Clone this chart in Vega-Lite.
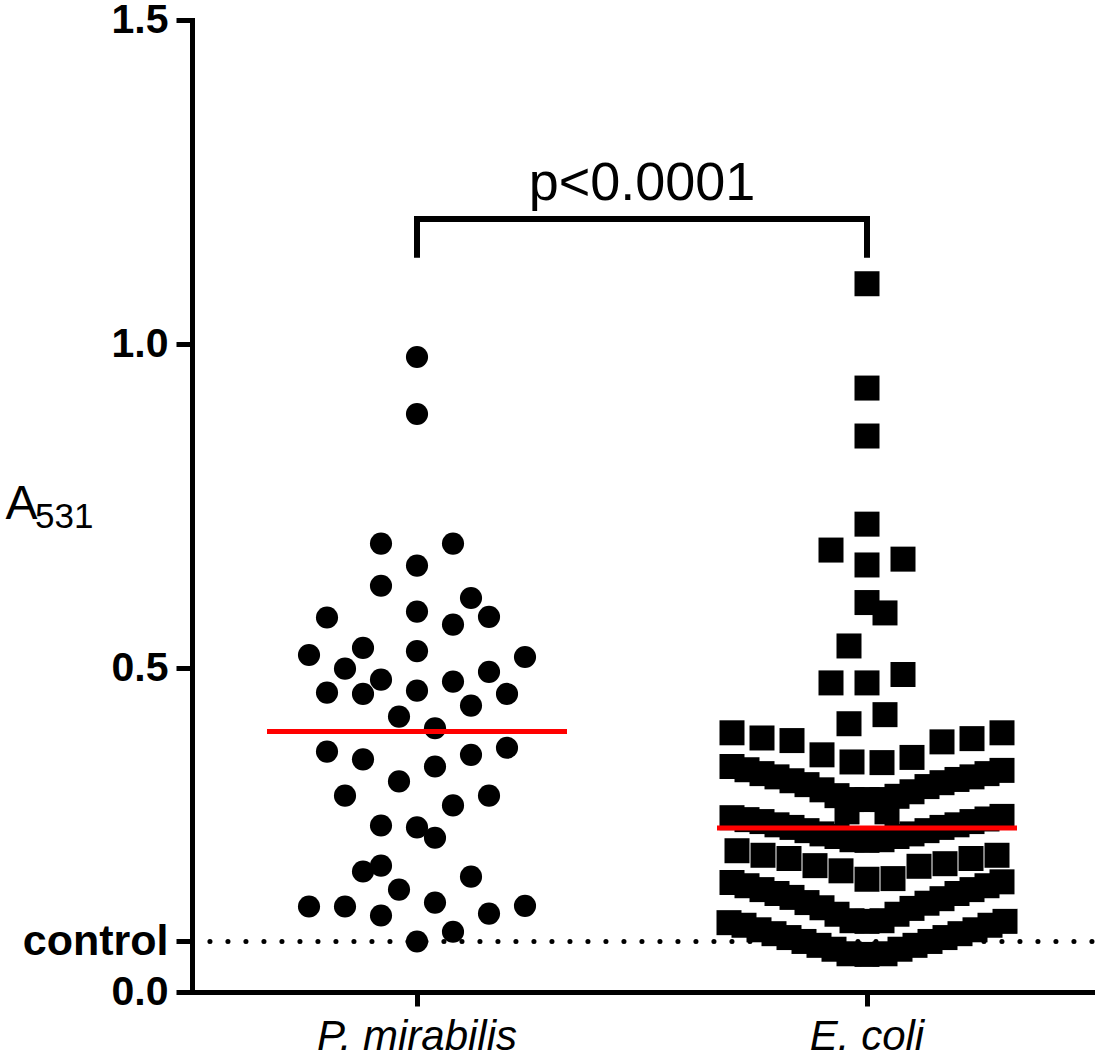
{
  "$schema": "https://vega.github.io/schema/vega-lite/v6.json",
  "width": 900,
  "height": 972,
  "autosize": {"type": "none"},
  "padding": {"left": 192, "top": 20, "right": 6, "bottom": 67},
  "background": "white",
  "datasets": {
    "mirabilis": [
      {"group": "P. mirabilis", "offset": 0, "value": 0.980},
      {"group": "P. mirabilis", "offset": 0, "value": 0.892},
      {"group": "P. mirabilis", "offset": -36, "value": 0.692},
      {"group": "P. mirabilis", "offset": 36, "value": 0.692},
      {"group": "P. mirabilis", "offset": 0, "value": 0.658},
      {"group": "P. mirabilis", "offset": -36, "value": 0.627},
      {"group": "P. mirabilis", "offset": 54, "value": 0.608},
      {"group": "P. mirabilis", "offset": -90, "value": 0.578},
      {"group": "P. mirabilis", "offset": 0, "value": 0.587},
      {"group": "P. mirabilis", "offset": 72, "value": 0.579},
      {"group": "P. mirabilis", "offset": 36, "value": 0.567},
      {"group": "P. mirabilis", "offset": -108, "value": 0.520},
      {"group": "P. mirabilis", "offset": -54, "value": 0.531},
      {"group": "P. mirabilis", "offset": 0, "value": 0.526},
      {"group": "P. mirabilis", "offset": 108, "value": 0.517},
      {"group": "P. mirabilis", "offset": -72, "value": 0.499},
      {"group": "P. mirabilis", "offset": 72, "value": 0.494},
      {"group": "P. mirabilis", "offset": -36, "value": 0.482},
      {"group": "P. mirabilis", "offset": 36, "value": 0.479},
      {"group": "P. mirabilis", "offset": -90, "value": 0.462},
      {"group": "P. mirabilis", "offset": -54, "value": 0.460},
      {"group": "P. mirabilis", "offset": 0, "value": 0.465},
      {"group": "P. mirabilis", "offset": 90, "value": 0.460},
      {"group": "P. mirabilis", "offset": 54, "value": 0.442},
      {"group": "P. mirabilis", "offset": -18, "value": 0.425},
      {"group": "P. mirabilis", "offset": 18, "value": 0.407},
      {"group": "P. mirabilis", "offset": -90, "value": 0.371},
      {"group": "P. mirabilis", "offset": -54, "value": 0.359},
      {"group": "P. mirabilis", "offset": 54, "value": 0.366},
      {"group": "P. mirabilis", "offset": 90, "value": 0.377},
      {"group": "P. mirabilis", "offset": 18, "value": 0.348},
      {"group": "P. mirabilis", "offset": -18, "value": 0.325},
      {"group": "P. mirabilis", "offset": -72, "value": 0.303},
      {"group": "P. mirabilis", "offset": 72, "value": 0.303},
      {"group": "P. mirabilis", "offset": 36, "value": 0.288},
      {"group": "P. mirabilis", "offset": -36, "value": 0.257},
      {"group": "P. mirabilis", "offset": 0, "value": 0.254},
      {"group": "P. mirabilis", "offset": 18, "value": 0.238},
      {"group": "P. mirabilis", "offset": -54, "value": 0.186},
      {"group": "P. mirabilis", "offset": -36, "value": 0.195},
      {"group": "P. mirabilis", "offset": 54, "value": 0.178},
      {"group": "P. mirabilis", "offset": -18, "value": 0.158},
      {"group": "P. mirabilis", "offset": -108, "value": 0.132},
      {"group": "P. mirabilis", "offset": -72, "value": 0.132},
      {"group": "P. mirabilis", "offset": 18, "value": 0.138},
      {"group": "P. mirabilis", "offset": 108, "value": 0.133},
      {"group": "P. mirabilis", "offset": -36, "value": 0.118},
      {"group": "P. mirabilis", "offset": 72, "value": 0.121},
      {"group": "P. mirabilis", "offset": 36, "value": 0.093},
      {"group": "P. mirabilis", "offset": 0, "value": 0.078}
    ],
    "ecoli": [
      {"group": "E. coli", "offset": 0, "value": 1.093},
      {"group": "E. coli", "offset": 0, "value": 0.932},
      {"group": "E. coli", "offset": 0, "value": 0.858},
      {"group": "E. coli", "offset": 0, "value": 0.722},
      {"group": "E. coli", "offset": -36, "value": 0.682},
      {"group": "E. coli", "offset": 0, "value": 0.659},
      {"group": "E. coli", "offset": 36, "value": 0.668},
      {"group": "E. coli", "offset": 0, "value": 0.601},
      {"group": "E. coli", "offset": 18, "value": 0.585},
      {"group": "E. coli", "offset": -18, "value": 0.534},
      {"group": "E. coli", "offset": -36, "value": 0.477},
      {"group": "E. coli", "offset": 0, "value": 0.477},
      {"group": "E. coli", "offset": 36, "value": 0.490},
      {"group": "E. coli", "offset": -18, "value": 0.414},
      {"group": "E. coli", "offset": 18, "value": 0.428},
      {"group": "E. coli", "offset": -135, "value": 0.400},
      {"group": "E. coli", "offset": -105, "value": 0.392},
      {"group": "E. coli", "offset": -75, "value": 0.388},
      {"group": "E. coli", "offset": -45, "value": 0.366},
      {"group": "E. coli", "offset": -15, "value": 0.355},
      {"group": "E. coli", "offset": 15, "value": 0.354},
      {"group": "E. coli", "offset": 45, "value": 0.362},
      {"group": "E. coli", "offset": 75, "value": 0.386},
      {"group": "E. coli", "offset": 105, "value": 0.391},
      {"group": "E. coli", "offset": 135, "value": 0.400},
      {"group": "E. coli", "offset": -135, "value": 0.348},
      {"group": "E. coli", "offset": -120, "value": 0.343},
      {"group": "E. coli", "offset": -105, "value": 0.337},
      {"group": "E. coli", "offset": -90, "value": 0.332},
      {"group": "E. coli", "offset": -75, "value": 0.326},
      {"group": "E. coli", "offset": -60, "value": 0.320},
      {"group": "E. coli", "offset": -45, "value": 0.312},
      {"group": "E. coli", "offset": -30, "value": 0.303},
      {"group": "E. coli", "offset": -15, "value": 0.297},
      {"group": "E. coli", "offset": 0, "value": 0.297},
      {"group": "E. coli", "offset": 15, "value": 0.297},
      {"group": "E. coli", "offset": 30, "value": 0.302},
      {"group": "E. coli", "offset": 45, "value": 0.309},
      {"group": "E. coli", "offset": 60, "value": 0.317},
      {"group": "E. coli", "offset": 75, "value": 0.323},
      {"group": "E. coli", "offset": 90, "value": 0.328},
      {"group": "E. coli", "offset": 105, "value": 0.332},
      {"group": "E. coli", "offset": 120, "value": 0.337},
      {"group": "E. coli", "offset": 135, "value": 0.342},
      {"group": "E. coli", "offset": -20, "value": 0.278},
      {"group": "E. coli", "offset": 20, "value": 0.278},
      {"group": "E. coli", "offset": -135, "value": 0.269},
      {"group": "E. coli", "offset": -120, "value": 0.266},
      {"group": "E. coli", "offset": -105, "value": 0.263},
      {"group": "E. coli", "offset": -90, "value": 0.258},
      {"group": "E. coli", "offset": -75, "value": 0.254},
      {"group": "E. coli", "offset": -60, "value": 0.249},
      {"group": "E. coli", "offset": -45, "value": 0.244},
      {"group": "E. coli", "offset": -30, "value": 0.240},
      {"group": "E. coli", "offset": -15, "value": 0.235},
      {"group": "E. coli", "offset": 0, "value": 0.234},
      {"group": "E. coli", "offset": 15, "value": 0.235},
      {"group": "E. coli", "offset": 30, "value": 0.240},
      {"group": "E. coli", "offset": 45, "value": 0.244},
      {"group": "E. coli", "offset": 60, "value": 0.249},
      {"group": "E. coli", "offset": 75, "value": 0.254},
      {"group": "E. coli", "offset": 90, "value": 0.258},
      {"group": "E. coli", "offset": 105, "value": 0.263},
      {"group": "E. coli", "offset": 120, "value": 0.267},
      {"group": "E. coli", "offset": 135, "value": 0.271},
      {"group": "E. coli", "offset": -130, "value": 0.218},
      {"group": "E. coli", "offset": -104, "value": 0.211},
      {"group": "E. coli", "offset": -78, "value": 0.206},
      {"group": "E. coli", "offset": -52, "value": 0.195},
      {"group": "E. coli", "offset": -26, "value": 0.187},
      {"group": "E. coli", "offset": 0, "value": 0.174},
      {"group": "E. coli", "offset": 26, "value": 0.175},
      {"group": "E. coli", "offset": 52, "value": 0.194},
      {"group": "E. coli", "offset": 78, "value": 0.198},
      {"group": "E. coli", "offset": 104, "value": 0.206},
      {"group": "E. coli", "offset": 130, "value": 0.211},
      {"group": "E. coli", "offset": -135, "value": 0.169},
      {"group": "E. coli", "offset": -120, "value": 0.164},
      {"group": "E. coli", "offset": -105, "value": 0.158},
      {"group": "E. coli", "offset": -90, "value": 0.152},
      {"group": "E. coli", "offset": -75, "value": 0.146},
      {"group": "E. coli", "offset": -60, "value": 0.138},
      {"group": "E. coli", "offset": -45, "value": 0.130},
      {"group": "E. coli", "offset": -30, "value": 0.120},
      {"group": "E. coli", "offset": -15, "value": 0.110},
      {"group": "E. coli", "offset": 0, "value": 0.109},
      {"group": "E. coli", "offset": 15, "value": 0.110},
      {"group": "E. coli", "offset": 30, "value": 0.120},
      {"group": "E. coli", "offset": 45, "value": 0.129},
      {"group": "E. coli", "offset": 60, "value": 0.137},
      {"group": "E. coli", "offset": 75, "value": 0.144},
      {"group": "E. coli", "offset": 90, "value": 0.152},
      {"group": "E. coli", "offset": 105, "value": 0.158},
      {"group": "E. coli", "offset": 120, "value": 0.164},
      {"group": "E. coli", "offset": 135, "value": 0.170},
      {"group": "E. coli", "offset": -138, "value": 0.107},
      {"group": "E. coli", "offset": -123, "value": 0.103},
      {"group": "E. coli", "offset": -108, "value": 0.096},
      {"group": "E. coli", "offset": -93, "value": 0.090},
      {"group": "E. coli", "offset": -78, "value": 0.084},
      {"group": "E. coli", "offset": -63, "value": 0.078},
      {"group": "E. coli", "offset": -48, "value": 0.072},
      {"group": "E. coli", "offset": -33, "value": 0.066},
      {"group": "E. coli", "offset": -18, "value": 0.059},
      {"group": "E. coli", "offset": 0, "value": 0.058},
      {"group": "E. coli", "offset": 18, "value": 0.059},
      {"group": "E. coli", "offset": 33, "value": 0.066},
      {"group": "E. coli", "offset": 48, "value": 0.072},
      {"group": "E. coli", "offset": 63, "value": 0.078},
      {"group": "E. coli", "offset": 78, "value": 0.084},
      {"group": "E. coli", "offset": 93, "value": 0.090},
      {"group": "E. coli", "offset": 108, "value": 0.096},
      {"group": "E. coli", "offset": 123, "value": 0.103},
      {"group": "E. coli", "offset": 138, "value": 0.109}
    ],
    "medians": [
      {"group": "P. mirabilis", "value": 0.402},
      {"group": "E. coli", "value": 0.253}
    ],
    "bracket": [
      {"group": "P. mirabilis", "step": 1, "value": 1.133},
      {"group": "P. mirabilis", "step": 2, "value": 1.193},
      {"group": "E. coli", "step": 3, "value": 1.193},
      {"group": "E. coli", "step": 4, "value": 1.133}
    ],
    "pvalue": [
      {"group": "E. coli", "value": 1.222, "label": "p<0.0001"}
    ],
    "subscript": [
      {"group": "P. mirabilis", "offset": -382, "value": 0.716, "label": "531"}
    ],
    "control": [
      {"value": 0.078}
    ]
  },
  "encoding": {
    "y": {
      "field": "value",
      "type": "quantitative",
      "title": "A",
      "scale": {"domain": [0, 1.5], "nice": false, "zero": false},
      "axis": {
        "values": [0, 0.078, 0.5, 1, 1.5],
        "labelExpr": "datum.value == 0.078 ? 'control' : format(datum.value, '.1f')",
        "labelFont": "Liberation Sans",
        "labelFontWeight": "bold",
        "labelFontSize": {"condition": {"test": "datum.value == 0.078", "value": 43}, "value": 41},
        "labelColor": "black",
        "labelPadding": 8,
        "labelBaseline": "middle",
        "tickSize": 16,
        "tickWidth": 5,
        "tickColor": "black",
        "domainWidth": 5,
        "domainColor": "black",
        "domainCap": "square",
        "grid": false,
        "titleFont": "Liberation Sans",
        "titleFontSize": 48,
        "titleFontWeight": "normal",
        "titleColor": "black",
        "titleAngle": 0,
        "titleAlign": "left",
        "titleBaseline": "alphabetic",
        "titleX": -187,
        "titleY": 498
      }
    }
  },
  "layer": [
    {
      "data": {"name": "control"},
      "mark": {"type": "rule", "color": "black", "strokeWidth": 5, "strokeCap": "round", "strokeDash": [0.1, 17.9], "strokeDashOffset": -18},
      "encoding": {}
    },
    {
      "data": {"name": "mirabilis"},
      "mark": {"type": "circle", "size": 490, "color": "black", "opacity": 1},
      "encoding": {
        "x": {
          "field": "group",
          "type": "nominal",
          "title": null,
          "scale": {"type": "band", "domain": ["P. mirabilis", "E. coli"], "paddingInner": 0, "paddingOuter": 0},
          "axis": {
            "labelFont": "Liberation Sans",
            "labelFontStyle": "italic",
            "labelFontSize": 42,
            "labelColor": "black",
            "labelAngle": 0,
            "labelLimit": 600,
            "labelPadding": 10,
            "tickSize": 14,
            "tickWidth": 5,
            "tickColor": "black",
            "domainWidth": 5,
            "domainColor": "black",
            "domainCap": "square",
            "grid": false
          }
        },
        "xOffset": {"field": "offset", "type": "quantitative", "scale": {"domain": [-225, 225], "range": [0, 450]}}
      }
    },
    {
      "data": {"name": "ecoli"},
      "mark": {"type": "square", "size": 625, "color": "black", "opacity": 1},
      "encoding": {
        "x": {"field": "group", "type": "nominal", "title": null},
        "xOffset": {"field": "offset", "type": "quantitative"}
      }
    },
    {
      "data": {"name": "medians"},
      "mark": {"type": "tick", "color": "#ff0000", "thickness": 5, "size": 300, "orient": "horizontal", "opacity": 1},
      "encoding": {
        "x": {"field": "group", "type": "nominal", "title": null}
      }
    },
    {
      "data": {"name": "bracket"},
      "mark": {"type": "line", "color": "black", "strokeWidth": 6, "strokeJoin": "miter", "strokeCap": "butt"},
      "encoding": {
        "x": {"field": "group", "type": "nominal", "title": null},
        "order": {"field": "step", "type": "quantitative"}
      }
    },
    {
      "data": {"name": "pvalue"},
      "mark": {"type": "text", "font": "Liberation Sans", "fontSize": 54, "align": "center", "baseline": "alphabetic", "color": "black"},
      "encoding": {
        "x": {"field": "group", "type": "nominal", "title": null, "bandPosition": 0},
        "text": {"field": "label"}
      }
    },
    {
      "data": {"name": "subscript"},
      "mark": {"type": "text", "font": "Liberation Sans", "fontSize": 35, "align": "left", "baseline": "alphabetic", "color": "black"},
      "encoding": {
        "x": {"field": "group", "type": "nominal", "title": null},
        "xOffset": {"field": "offset", "type": "quantitative"},
        "text": {"field": "label"}
      }
    }
  ],
  "config": {
    "view": {"stroke": null}
  }
}
